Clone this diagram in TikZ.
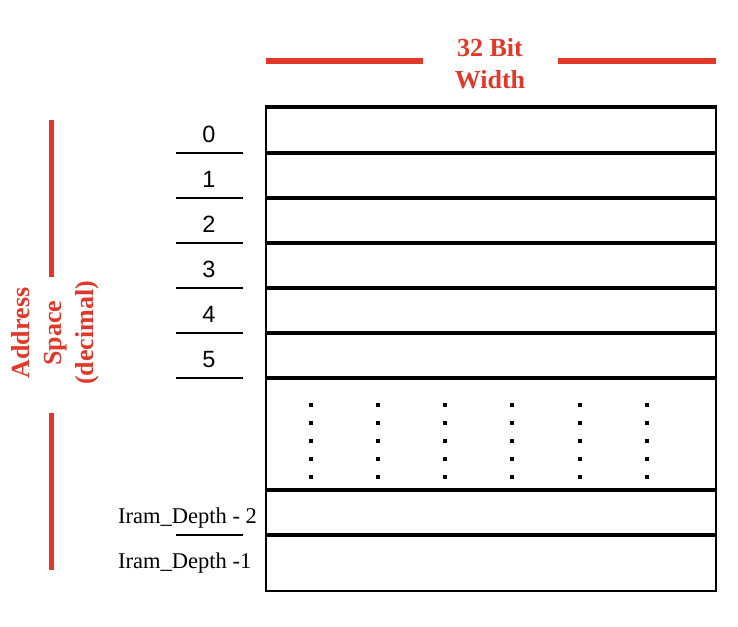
\documentclass[tikz,border=0pt]{standalone}
\usepackage{fontspec}
\setmainfont{Liberation Serif}
\newfontfamily\arialf{Liberation Sans}
\definecolor{redline}{RGB}{226,56,42}
\begin{document}
\begin{tikzpicture}[x=1pt,y=-1pt,
  hline/.style={line width=3.3pt},
  vline/.style={line width=2.2pt},
  tickline/.style={line width=2pt},
  redbar/.style={redline,line width=6pt},
  redvbar/.style={redline,line width=4.5pt},
  digit/.style={font=\arialf\fontsize{23.5}{28}\selectfont, anchor=base, inner sep=0pt},
  depthlbl/.style={font=\fontsize{22.5}{27}\selectfont, anchor=base west, inner sep=0pt},
  redlbl/.style={text=redline, font=\bfseries\fontsize{26}{32}\selectfont, align=center, inner sep=0pt},
  dotsq/.style={fill=black, minimum size=4pt, inner sep=0pt, draw=none}
]
\useasboundingbox (0,0) rectangle (738,626);

% box
\coordinate (tl) at (266,107);
\coordinate (bl) at (266,592);
\coordinate (tr) at (716,107);
\coordinate (br) at (716,592);
\draw[vline] (tl) -- (bl);
\draw[vline] (tr) -- (br);
\foreach \y/\n in {107/a,153/b,198/c,243/d,288/e,333/f,378/g,490/h,535/i}{
  \coordinate (L\n) at (265,\y);
  \coordinate (R\n) at (717,\y);
  \draw[hline] (L\n) -- (R\n);
}
\coordinate (Lz) at (265,591);
\coordinate (Rz) at (717,591);
\draw[line width=2.4pt] (Lz) -- (Rz);

% ticks
\foreach \y/\n in {153/b,198/c,243/d,288/e,333/f,378/g,535/i}{
  \coordinate (ta\n) at (176,\y);
  \coordinate (tb\n) at (243,\y);
  \draw[tickline] (ta\n) -- (tb\n);
}

% digits
\node[digit] (d0) at (209,142) {0};
\node[digit] (d1) at (209,187) {1};
\node[digit] (d2) at (209,232) {2};
\node[digit] (d3) at (209,277) {3};
\node[digit] (d4) at (209,322) {4};
\node[digit] (d5) at (209,367) {5};

% depth labels
\node[depthlbl] (dm2) at (118,523) {Iram\_Depth - 2};
\node[depthlbl] (dm1) at (118,568) {Iram\_Depth -1};

% dots
\foreach \x [count=\i] in {310.5,378,445,512,580,647}{
  \foreach \y [count=\j] in {405,423,441,459,477}{
    \node[dotsq] (dot\i\j) at (\x,\y) {};
  }
}

% top label
\coordinate (ra1) at (266,61);
\coordinate (ra2) at (423,61);
\coordinate (rb1) at (558,61);
\coordinate (rb2) at (716,61);
\draw[redbar] (ra1) -- (ra2);
\draw[redbar] (rb1) -- (rb2);
\node[redlbl] (width) at (490,63.5) {32 Bit\\Width};

% left label
\coordinate (va1) at (51.5,120);
\coordinate (va2) at (51.5,277);
\coordinate (vb1) at (51.5,413);
\coordinate (vb2) at (51.5,570);
\draw[redvbar] (va1) -- (va2);
\draw[redvbar] (vb1) -- (vb2);
\node[redlbl, rotate=90] (addr) at (55,333) {Address\\Space\\(decimal)};
\end{tikzpicture}
\end{document}
